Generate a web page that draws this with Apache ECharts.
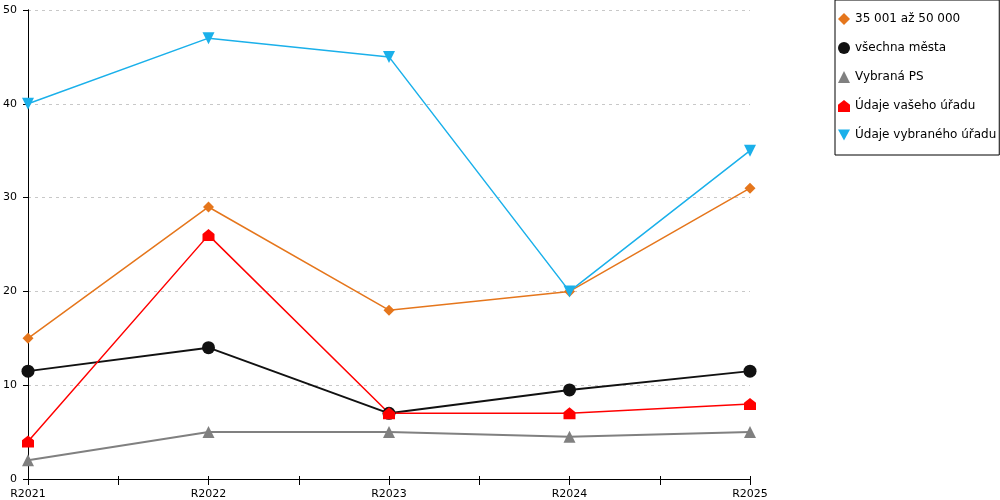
<!DOCTYPE html>
<html>
<head>
<meta charset="utf-8">
<script src="https://cdn.jsdelivr.net/npm/echarts@6/dist/echarts.min.js"></script>
<style>
  html, body { margin: 0; padding: 0; background: #fff; }
  #chart { width: 1000px; height: 500px; }
</style>
</head>
<body>
<div id="chart"></div>
<script>
const years = ['R2021', 'R2022', 'R2023', 'R2024', 'R2025']
const yTicks = [0, 10, 20, 30, 40, 50]

const names = ['35 001 až 50 000', 'všechna města', 'Vybraná PS', 'Údaje vašeho úřadu', 'Údaje vybraného úřadu']
const orangeVals = [15, 29, 18, 20, 31]
const blackVals = [11.5, 14, 7, 9.5, 11.5]
const grayVals = [2, 5, 5, 4.5, 5]
const redVals = [4, 26, 7, 7, 8]
const blueVals = [40, 47, 45, 20, 35]

const house = 'path://M0,10 L0,4 L5,0 L10,4 L10,10 Z'
const downTri = 'path://M0,0 L10,0 L5,9 Z'

const font = 'DejaVu Sans'

const chart = echarts.init(document.getElementById('chart'))

function line(name, data, color, symbol, size, width) {
  return {
    name: name,
    type: 'line',
    data: data,
    symbol: symbol,
    symbolSize: size,
    showSymbol: true,
    lineStyle: { color: color, width: width },
    itemStyle: { color: color },
    z: 3
  }
}

const option = {
  animation: false,
  backgroundColor: '#fff',
  textStyle: { fontFamily: font },
  grid: { left: 28, right: 250, top: 10, bottom: 20, containLabel: false },
  legend: {
    orient: 'vertical',
    left: 835,
    top: 0,
    padding: [13, 3, 14, 3],
    itemGap: 17,
    itemWidth: 12,
    itemHeight: 12,
    borderColor: '#000',
    borderWidth: 1,
    textStyle: { fontFamily: font, fontSize: 12, color: '#000', padding: [0, 0, 0, 0] },
    data: [
      { name: names[0], icon: 'diamond' },
      { name: names[1], icon: 'circle' },
      { name: names[2], icon: 'triangle' },
      { name: names[3], icon: house },
      { name: names[4], icon: downTri }
    ]
  },
  xAxis: [
    {
      type: 'category',
      data: years,
      boundaryGap: false,
      axisLine: { lineStyle: { color: '#000', width: 1 } },
      axisTick: { show: false },
      axisLabel: { color: '#000', fontSize: 11, fontFamily: font, margin: 10 },
      splitLine: { show: false }
    },
    {
      type: 'value',
      min: 0, max: 4, interval: 0.5,
      position: 'bottom',
      axisLine: { show: false },
      axisTick: { show: true, length: 6, lineStyle: { color: '#000' } },
      axisLabel: { show: false },
      splitLine: { show: false }
    },
    {
      type: 'value',
      min: 0, max: 4, interval: 0.5,
      position: 'bottom',
      axisLine: { show: false },
      axisTick: { show: true, inside: true, length: 3, lineStyle: { color: '#000' } },
      axisLabel: { show: false },
      splitLine: { show: false }
    }
  ],
  yAxis: [
    {
      type: 'value',
      min: yTicks[0],
      max: yTicks[yTicks.length - 1],
      interval: 10,
      axisLine: { show: true, lineStyle: { color: '#000', width: 1 } },
      axisTick: { show: true, length: 5, lineStyle: { color: '#000', width: 1 } },
      axisLabel: { color: '#000', fontSize: 11, fontFamily: font, margin: 11 },
      splitLine: { show: true, lineStyle: { color: '#c8c8c8', type: [3, 4], width: 1 } }
    },
    {
      type: 'value',
      position: 'right',
      min: 0, max: 50, interval: 10,
      axisLine: { show: true, lineStyle: { color: '#000', width: 1 } },
      axisTick: { show: false },
      axisLabel: { show: false },
      splitLine: { show: false }
    }
  ],
  series: [
    line(names[2], grayVals, '#808080', 'triangle', 12, 2),
    line(names[1], blackVals, '#111111', 'circle', 13, 2),
    line(names[3], redVals, '#ff0000', house, 12, 1.5),
    line(names[0], orangeVals, '#e5761c', 'diamond', 11, 1.5),
    line(names[4], blueVals, '#1ab0ea', downTri, 12, 1.5)
  ]
}

chart.setOption(option)
</script>
</body>
</html>
